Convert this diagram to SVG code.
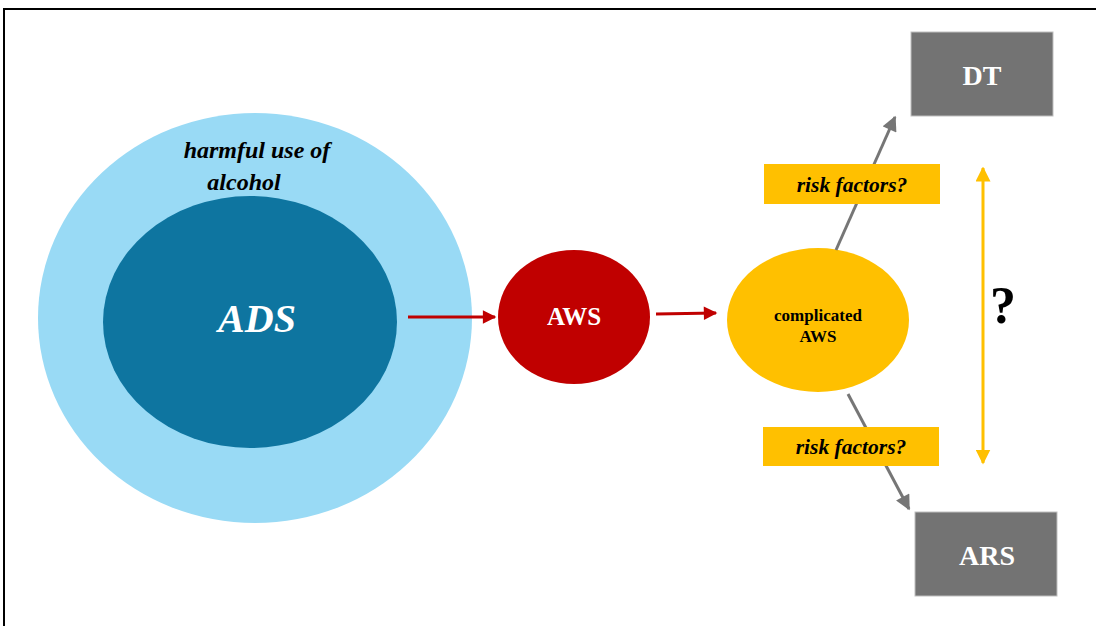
<svg xmlns="http://www.w3.org/2000/svg" width="1096" height="626" viewBox="0 0 1096 626">
<defs>
<style>
text{font-family:"Liberation Serif","Times New Roman",serif;font-weight:bold;text-anchor:middle;dominant-baseline:central}
.wt{fill:#fff}
.it{font-style:italic}
.box{fill:#737373;stroke:#bfbfbf;stroke-width:1}
.rf{fill:#FFC000}
</style>
<marker id="ar" viewBox="0 0 10 10" refX="9" refY="5" markerWidth="5" markerHeight="4.5" orient="auto" markerUnits="strokeWidth"><path d="M0,0L10,5L0,10Z" fill="#C00000"/></marker>
<marker id="ag" viewBox="0 0 10 10" refX="9" refY="5" markerWidth="5.5" markerHeight="5" orient="auto" markerUnits="strokeWidth"><path d="M0,0L10,5L0,10Z" fill="#767676"/></marker>
<marker id="ay" viewBox="0 0 10 10" refX="9" refY="5" markerWidth="5" markerHeight="5" orient="auto-start-reverse" markerUnits="strokeWidth"><path d="M0,0L10,5L0,10Z" fill="#FFC000"/></marker>
</defs>
<rect width="1096" height="626" fill="#fff"/>
<path d="M4,626V9H1096" fill="none" stroke="#000" stroke-width="2"/>
<g id="harmful">
<ellipse cx="255" cy="318" rx="217" ry="205" fill="#99DAF5"/>
<g id="ads">
<ellipse cx="250" cy="322" rx="147" ry="126" fill="#0E75A0"/>
<text class="it wt" x="257" y="318" font-size="40">ADS</text>
</g>
<text class="it" x="257" y="150" font-size="24">harmful use of</text>
<text class="it" x="244" y="182" font-size="24">alcohol</text>
</g>
<g id="aws">
<ellipse cx="574" cy="317" rx="76" ry="67" fill="#C00000"/>
<text class="wt" x="574" y="316" font-size="25">AWS</text>
</g>
<g id="caws">
<ellipse cx="818" cy="320" rx="91" ry="72" fill="#FFC000"/>
<text x="818" y="315" font-size="17">complicated</text>
<text x="818" y="336" font-size="17">AWS</text>
</g>
<g id="dt">
<rect class="box" x="911" y="32" width="142" height="84"/>
<text class="wt" x="982" y="75" font-size="28">DT</text>
</g>
<g id="ars">
<rect class="box" x="915" y="512" width="142" height="84"/>
<text class="wt" x="987" y="555" font-size="28">ARS</text>
</g>
<g id="connectors" fill="none">
<line x1="408" y1="317" x2="495" y2="317" stroke="#C00000" stroke-width="3" marker-end="url(#ar)"/>
<line x1="656" y1="314" x2="716" y2="313" stroke="#C00000" stroke-width="3" marker-end="url(#ar)"/>
<line x1="836" y1="250" x2="895" y2="117" stroke="#767676" stroke-width="3" marker-end="url(#ag)"/>
<line x1="848" y1="394" x2="909" y2="509" stroke="#767676" stroke-width="3" marker-end="url(#ag)"/>
<line x1="983" y1="168" x2="983" y2="463" stroke="#FFC000" stroke-width="3" marker-start="url(#ay)" marker-end="url(#ay)"/>
</g>
<g id="rf-top">
<rect class="rf" x="764" y="164" width="176" height="40"/>
<text class="it" x="852" y="185" font-size="21.5">risk factors?</text>
</g>
<g id="rf-bottom">
<rect class="rf" x="763" y="427" width="176" height="39"/>
<text class="it" x="851" y="447" font-size="21.5">risk factors?</text>
</g>
<g id="question">
<text x="1003" y="305" font-size="52">?</text>
</g>
</svg>
